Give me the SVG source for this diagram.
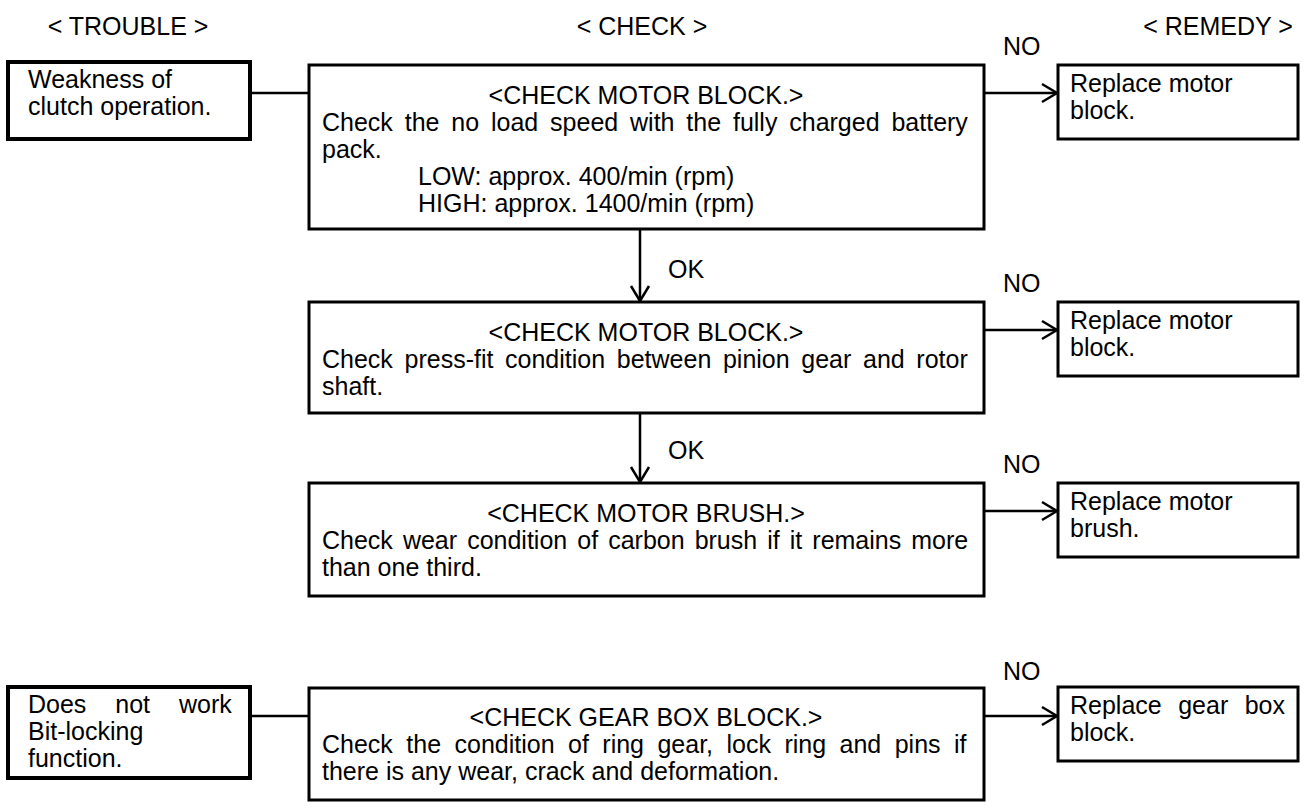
<svg xmlns="http://www.w3.org/2000/svg" width="1310" height="810" viewBox="0 0 1310 810">
<style>
text{font-family:"Liberation Sans",Arial,sans-serif;font-size:25px;fill:#000}
.mid{text-anchor:middle}
.tb{fill:#fff;stroke:#000;stroke-width:4}
.bx{fill:#fff;stroke:#000;stroke-width:3}
.ln{fill:none;stroke:#000;stroke-width:2.5}
</style>
<defs>
<marker id="ah" viewBox="-17 -11 19 22" refX="0" refY="0" markerWidth="19" markerHeight="22" markerUnits="userSpaceOnUse" orient="auto">
<path d="M-15,-9 L0,0 L-15,9" fill="none" stroke="#000" stroke-width="2.5"/>
</marker>
</defs>
<rect width="1310" height="810" fill="#fff"/>
<g id="headers">
<text class="mid" x="128" y="35">&lt; TROUBLE &gt;</text>
<text class="mid" x="642" y="35">&lt; CHECK &gt;</text>
<text class="mid" x="1218" y="35">&lt; REMEDY &gt;</text>
</g>
<g id="connectors">
<line class="ln" x1="250" y1="93" x2="309" y2="93"/>
<line class="ln" x1="984" y1="93" x2="1057" y2="93" marker-end="url(#ah)"/>
<line class="ln" x1="640" y1="229" x2="640" y2="301" marker-end="url(#ah)"/>
<line class="ln" x1="984" y1="330" x2="1057" y2="330" marker-end="url(#ah)"/>
<line class="ln" x1="640" y1="413" x2="640" y2="482" marker-end="url(#ah)"/>
<line class="ln" x1="984" y1="511" x2="1057" y2="511" marker-end="url(#ah)"/>
<line class="ln" x1="250" y1="716" x2="309" y2="716"/>
<line class="ln" x1="984" y1="716" x2="1057" y2="716" marker-end="url(#ah)"/>
<text x="1003" y="55">NO</text>
<text x="668" y="278">OK</text>
<text x="1003" y="292">NO</text>
<text x="668" y="459">OK</text>
<text x="1003" y="473">NO</text>
<text x="1003" y="680">NO</text>
</g>
<g id="trouble1">
<rect class="tb" x="8" y="62" width="242" height="77"/>
<text x="28" y="88">Weakness of</text>
<text x="28" y="115">clutch operation.</text>
</g>
<g id="check1">
<rect class="bx" x="309" y="65" width="675" height="164"/>
<text class="mid" x="646" y="104">&lt;CHECK MOTOR BLOCK.&gt;</text>
<text x="322" y="131" word-spacing="4.9">Check the no load speed with the fully charged battery</text>
<text x="322" y="158">pack.</text>
<text x="418" y="185">LOW: approx. 400/min (rpm)</text>
<text x="418" y="212">HIGH: approx. 1400/min (rpm)</text>
</g>
<g id="remedy1">
<rect class="bx" x="1058" y="65" width="240" height="74"/>
<text x="1070" y="92">Replace motor</text>
<text x="1070" y="119">block.</text>
</g>
<g id="check2">
<rect class="bx" x="309" y="302" width="675" height="111"/>
<text class="mid" x="646" y="341">&lt;CHECK MOTOR BLOCK.&gt;</text>
<text x="322" y="368" word-spacing="4.7">Check press-fit condition between pinion gear and rotor</text>
<text x="322" y="395">shaft.</text>
</g>
<g id="remedy2">
<rect class="bx" x="1058" y="302" width="240" height="74"/>
<text x="1070" y="329">Replace motor</text>
<text x="1070" y="356">block.</text>
</g>
<g id="check3">
<rect class="bx" x="309" y="483" width="675" height="113"/>
<text class="mid" x="646" y="522">&lt;CHECK MOTOR BRUSH.&gt;</text>
<text x="322" y="549" word-spacing="3.1">Check wear condition of carbon brush if it remains more</text>
<text x="322" y="576">than one third.</text>
</g>
<g id="remedy3">
<rect class="bx" x="1058" y="483" width="240" height="74"/>
<text x="1070" y="510">Replace motor</text>
<text x="1070" y="537">brush.</text>
</g>
<g id="trouble2">
<rect class="tb" x="8" y="687" width="242" height="91"/>
<text x="28" y="713" word-spacing="22">Does not work</text>
<text x="28" y="740">Bit-locking</text>
<text x="28" y="767">function.</text>
</g>
<g id="check4">
<rect class="bx" x="309" y="688" width="675" height="112"/>
<text class="mid" x="646" y="726">&lt;CHECK GEAR BOX BLOCK.&gt;</text>
<text x="322" y="753" word-spacing="6.5">Check the condition of ring gear, lock ring and pins if</text>
<text x="322" y="780">there is any wear, crack and deformation.</text>
</g>
<g id="remedy4">
<rect class="bx" x="1058" y="687" width="240" height="74"/>
<text x="1070" y="714" word-spacing="9.5">Replace gear box</text>
<text x="1070" y="741">block.</text>
</g>
</svg>
